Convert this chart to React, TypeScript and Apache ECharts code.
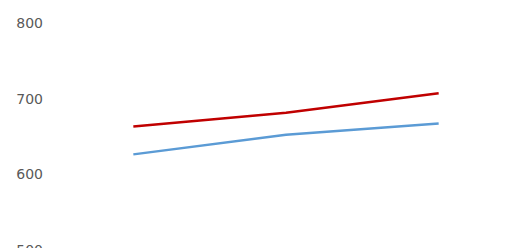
import React, { useEffect, useRef } from "react";
import * as echarts from "echarts";

const categories = ["A", "B", "C"];
const redValues = [663, 681, 707];
const blueValues = [626, 652, 667];
const yTicks = { min: 500, max: 800, interval: 100 };

export default function App() {
  const ref = useRef<HTMLDivElement>(null);
  useEffect(() => {
    if (!ref.current) return;
    const chart = echarts.init(ref.current, null, { renderer: "svg" });
    chart.setOption({
      animation: false,
      grid: { left: 57, width: 458, top: 23, height: 226.5, outerBoundsMode: "none" },
      xAxis: {
        type: "category",
        data: categories,
        boundaryGap: true,
        axisLine: { show: false },
        axisTick: { show: false },
        axisLabel: { show: false },
        splitLine: { show: false },
      },
      yAxis: {
        type: "value",
        min: yTicks.min,
        max: yTicks.max,
        interval: yTicks.interval,
        axisLine: { show: false },
        axisTick: { show: false },
        splitLine: { show: false },
        axisLabel: {
          color: "#595959",
          fontFamily: "DejaVu Sans",
          fontSize: 14,
          margin: 14,
        },
      },
      series: [
        {
          type: "line",
          data: redValues,
          symbol: "none",
          lineStyle: { color: "#C00000", width: 2.5 },
        },
        {
          type: "line",
          data: blueValues,
          symbol: "none",
          lineStyle: { color: "#5B9BD5", width: 2.5 },
        },
      ],
    });
    return () => chart.dispose();
  }, []);
  return (
    <div style={{ position: "fixed", left: 0, top: 0, width: 512, height: 248, background: "#fff", overflow: "hidden" }}>
      <div ref={ref} style={{ width: 512, height: 248 }} />
    </div>
  );
}
